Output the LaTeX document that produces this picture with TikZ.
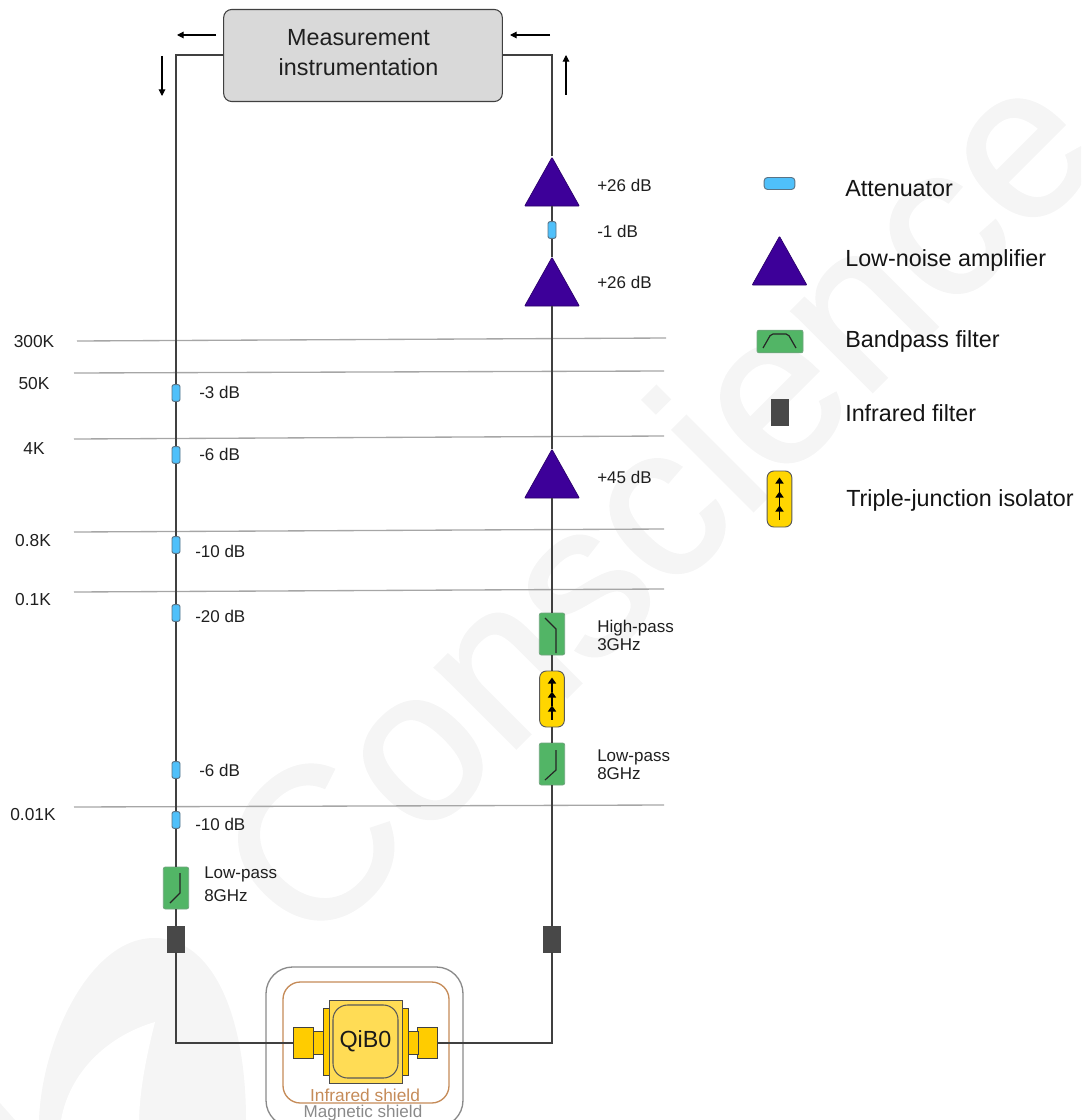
\documentclass[tikz,border=0pt]{standalone}
\usepackage{fontspec}
\setmainfont{Liberation Sans}
\newfontfamily\wmfont[FakeBold=1.3]{Liberation Sans}
\usetikzlibrary{shapes.geometric,arrows.meta,calc}
\definecolor{attc}{HTML}{4FC0FA}
\definecolor{attb}{HTML}{5A7385}
\definecolor{ampc}{HTML}{3D0099}
\definecolor{grn}{HTML}{52B566}
\definecolor{grnb}{HTML}{6FA57D}
\definecolor{irc}{HTML}{484848}
\definecolor{isoc}{HTML}{FFD600}
\definecolor{chipc}{HTML}{FFDC55}
\definecolor{conc}{HTML}{FFCC00}
\definecolor{irs}{HTML}{C58B58}
\definecolor{mags}{HTML}{8A8A8A}
\definecolor{wm}{HTML}{F5F5F5}
\definecolor{wire}{HTML}{404040}
\tikzset{
  wirel/.style={draw=wire,line width=0.9pt},
  temp/.style={draw=black!35,line width=1pt},
  flow/.style={draw=black,line width=0.8pt,-{Triangle[length=5pt,width=5pt]}},
  att/.style={draw=attb,fill=attc,rounded corners=1.5pt,line width=0.7pt,inner sep=0pt,minimum width=6pt,minimum height=12.5pt},
  atth/.style={att,minimum width=23pt,minimum height=9pt,rounded corners=2.5pt},
  amp/.style={isosceles triangle,shape border rotate=90,isosceles triangle stretches,fill=ampc,draw=ampc!70!black,line width=0.5pt,rounded corners=0.5pt,inner sep=0pt,minimum width=41pt,minimum height=36.5pt,anchor=apex},
  filt/.style={draw=grnb,fill=grn,rounded corners=1.5pt,line width=0.6pt,inner sep=0pt,minimum width=19pt,minimum height=31.5pt},
  irf/.style={draw=irc,fill=irc,inner sep=0pt,minimum width=12.5pt,minimum height=19.5pt},
  iso/.style={draw=black!65,fill=isoc,rounded corners=5pt,line width=0.7pt,inner sep=0pt,minimum width=18.5pt,minimum height=42pt},
  chipp/.style={draw=black!75,fill=conc,line width=0.7pt,inner sep=0pt},
  curve/.style={draw=black!85,line width=0.9pt},
  isoar/.style={draw=black,line width=1.2pt,-{Triangle[length=4.5pt,width=6pt]}},
  lab/.style={font=\fontsize{12.75}{17}\selectfont,anchor=west,inner sep=0pt,align=left,text=black!88},
  tlab/.style={font=\fontsize{13}{16}\selectfont,inner sep=0pt,text=black!88},
  leg/.style={font=\fontsize{17.5}{22}\selectfont,anchor=west,inner sep=0pt,text=black!92},
}
\newcommand{\isoarrows}[1]{\foreach \yy in {14,0,-14}{\draw[isoar] ($(#1)+(0,\yy+6.5)$) -- ($(#1)+(0,\yy-7.5)$);}}
\begin{document}
\begin{tikzpicture}[x=0.75pt,y=-0.75pt]
\useasboundingbox (0,0) rectangle (1081,1120);
\clip (0,0) rectangle (1081,1120);
% watermark
\node[rotate=45,text=wm,inner sep=0pt,font=\wmfont\fontsize{162}{162}\selectfont] (wmark) at (655,500) {Conscience};
\fill[wm] (39,1120) .. controls (42,1040) and (90,938) .. (154,938) .. controls (215,938) and (246,1020) .. (246,1120) -- cycle;
\fill[white] (155,1022) .. controls (110,1035) and (70,1070) .. (61,1120) -- (139,1120) .. controls (140,1085) and (148,1050) .. (155,1022) -- cycle;
\fill[wm] (0,1103) -- (15,1120) -- (0,1120) -- cycle;
% temperature lines
\coordinate (t1a) at (77,341); \coordinate (t1b) at (666,338);
\coordinate (t2a) at (74,373); \coordinate (t2b) at (664,371);
\coordinate (t3a) at (74,439); \coordinate (t3b) at (664,436);
\coordinate (t4a) at (74,532); \coordinate (t4b) at (664,529);
\coordinate (t5a) at (74,592); \coordinate (t5b) at (664,589);
\coordinate (t6a) at (74,807); \coordinate (t6b) at (664,805);
\foreach \i in {1,...,6}{\draw[temp] (t\i a) -- (t\i b);}
\node[tlab] (k1) at (34,342) {300K};
\node[tlab] (k2) at (34,384) {50K};
\node[tlab] (k3) at (34,449) {4K};
\node[tlab] (k4) at (33,541) {0.8K};
\node[tlab] (k5) at (33,600) {0.1K};
\node[tlab] (k6) at (33,815) {0.01K};
% measurement box
\node[draw=black!75,fill=black!15,rounded corners=6pt,line width=0.8pt,minimum width=209pt,minimum height=69pt,inner sep=0pt] (meas) at (363,55.5) {};
\node[inner sep=0pt,align=center,font=\fontsize{17.5}{22.5}\selectfont,text=black!88] (meast) at (358.5,53) {Measurement\\instrumentation};
\coordinate (cl) at (176,55); \coordinate (cr) at (552,55);
% left components
\node[att] (a1) at (176,393) {};
\node[att] (a2) at (176,455) {};
\node[att] (a3) at (176,545) {};
\node[att] (a4) at (176,613) {};
\node[att] (a5) at (176,770) {};
\node[att] (a6) at (176,820) {};
\node[filt] (lpl) at (176,888) {};
\node[irf] (irl) at (176,939) {};
% right components
\node[amp] (r1) at (552,156.5) {};
\node[att] (r2) at (552,230) {};
\node[amp] (r3) at (552,256.5) {};
\node[amp] (r4) at (552,448.5) {};
\node[filt] (hp) at (552,634) {};
\node[iso] (is1) at (552,699) {};
\node[filt] (lpr) at (552,764) {};
\node[irf] (irr) at (552,939) {};
% chip
\node[chipp,minimum width=15pt,minimum height=23.25pt] (cL2) at (303,1043) {};
\node[chipp,minimum width=8.25pt,minimum height=17.25pt] (cL1) at (318.5,1043) {};
\node[chipp,minimum width=15pt,minimum height=23.25pt] (cR2) at (427.5,1043) {};
\node[chipp,minimum width=7.5pt,minimum height=17.25pt] (cR1) at (413,1043) {};
\node[chipp,minimum width=6pt,minimum height=50.25pt] (pL) at (327,1041.5) {};
\node[chipp,minimum width=6pt,minimum height=50.25pt] (pR) at (404,1041.5) {};
\node[draw=black!70,fill=chipc,line width=0.7pt,inner sep=0pt,minimum width=54.75pt,minimum height=62.25pt] (chip) at (365.5,1041.5) {};
\node[draw=black!65,fill=chipc,rounded corners=11pt,line width=0.8pt,inner sep=0pt,minimum width=48.75pt,minimum height=54.75pt,font=\fontsize{17.5}{20}\selectfont,text=black!90] (qib) at (365.5,1041.5) {QiB0};
% shields
\node[draw=irs,rounded corners=13pt,line width=1pt,inner sep=0pt,minimum width=124.5pt,minimum height=90.75pt] (ish) at (366,1042.5) {};
\node[draw=mags,rounded corners=20pt,line width=1pt,inner sep=0pt,minimum width=147.75pt,minimum height=120pt] (msh) at (364.5,1047) {};
\node[font=\fontsize{13}{15}\selectfont,text=irs,inner sep=0pt] (ilab) at (365,1095) {Infrared shield};
\node[font=\fontsize{12.8}{15}\selectfont,text=mags,inner sep=0pt] (mlab) at (363,1113) {Magnetic shield};
% wires
\coordinate (bl) at (irl |- cL2.west); \coordinate (br) at (irr |- cR2.east);
\draw[wirel] (meas.west |- cl) -- (cl) -- (a1);
\draw[wirel] (a1) -- (a2); \draw[wirel] (a2) -- (a3); \draw[wirel] (a3) -- (a4);
\draw[wirel] (a4) -- (a5); \draw[wirel] (a5) -- (a6); \draw[wirel] (a6) -- (lpl);
\draw[wirel] (lpl) -- (irl);
\draw[wirel] (irl) -- (bl) -- (cL2.west);
\draw[wirel] (cR2.east) -- (br) -- (irr);
\draw[wirel] (irr) -- (lpr); \draw[wirel] (lpr) -- (is1); \draw[wirel] (is1) -- (hp);
\draw[wirel] (hp) -- (r4.lower side); \draw[wirel] (r4.apex) -- (r3.lower side);
\draw[wirel] (r3.apex) -- (r2); \draw[wirel] (r2) -- (r1.lower side);
\draw[wirel] (r1.apex) -- (cr) -- (meas.east |- cr);
% filter curves
\draw[curve] ($(hp)+(-7,-16)$) -- ($(hp)+(4,-5)$) -- ($(hp)+(4,19)$);
\draw[curve] ($(lpr)+(4,-14)$) -- ($(lpr)+(4,6)$) -- ($(lpr)+(-7,16)$);
\draw[curve] ($(lpl)+(4,-15)$) -- ($(lpl)+(4,5)$) -- ($(lpl)+(-6,15)$);
\isoarrows{is1}
% flow arrows
\coordinate (f1a) at (216,35); \coordinate (f1b) at (177,35);
\coordinate (f2a) at (550,35); \coordinate (f2b) at (510,35);
\coordinate (f3a) at (162,56); \coordinate (f3b) at (162,96);
\coordinate (f4a) at (566,95); \coordinate (f4b) at (566,55);
\draw[flow] (f1a) -- (f1b); \draw[flow] (f2a) -- (f2b);
\draw[flow] (f3a) -- (f3b); \draw[flow] (f4a) -- (f4b);
% labels
\node[lab] (l1) at (199,392) {-3 dB};
\node[lab] (l2) at (199,454) {-6 dB};
\node[lab] (l3) at (195,551) {-10 dB};
\node[lab] (l4) at (195,616) {-20 dB};
\node[lab] (l5) at (199,770) {-6 dB};
\node[lab] (l6) at (195,824) {-10 dB};
\node[lab,font=\fontsize{12.75}{17.25}\selectfont] (l7) at (204,884.5) {Low-pass\\8GHz};
\node[lab] (l8) at (597,185) {+26 dB};
\node[lab] (l9) at (597,231) {-1 dB};
\node[lab] (l10) at (597,282) {+26 dB};
\node[lab] (l11) at (597,477) {+45 dB};
\node[lab,font=\fontsize{12.75}{13.5}\selectfont] (l12) at (597,635) {High-pass\\3GHz};
\node[lab,font=\fontsize{12.75}{13.5}\selectfont] (l13) at (597,765) {Low-pass\\8GHz};
% legend
\node[atth] (ga) at (779.5,183.5) {};
\node[amp] (gb) at (779.5,235.5) {};
\node[filt,minimum width=34.5pt,minimum height=17pt] (gc) at (780,341.5) {};
\node[irf] (gd) at (779.5,412) {};
\node[iso] (ge) at (779.5,499) {};
\draw[curve,rounded corners=1.5pt] ($(gc)+(-17,6.5)$) -- ($(gc)+(-9,-7.5)$) -- ($(gc)+(8,-7.5)$) -- ($(gc)+(16,6.5)$);
\isoarrows{ge}
\node[leg] (ta) at (845,188.5) {Attenuator};
\node[leg] (tb) at (845,260) {Low-noise amplifier};
\node[leg] (tc) at (845,341.5) {Bandpass filter};
\node[leg] (td) at (845,413) {Infrared filter};
\node[leg] (te) at (846,500) {Triple-junction isolator};
\end{tikzpicture}
\end{document}
